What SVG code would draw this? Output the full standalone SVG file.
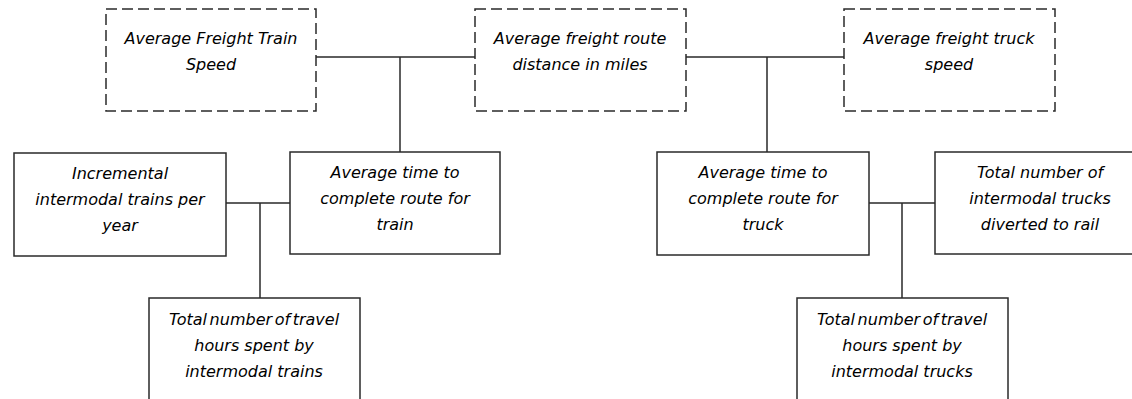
<svg xmlns="http://www.w3.org/2000/svg" width="1132" height="399" viewBox="0 0 1132 399">
  <style>
    .box { fill: #ffffff; stroke: #2a2a2a; stroke-width: 1.5; }
    .dashed { stroke-dasharray: 11 5; }
    .wire { fill: none; stroke: #2a2a2a; stroke-width: 1.5; }
    text { font-family: "DejaVu Sans", "Liberation Sans", sans-serif; font-style: italic; font-size: 16px; fill: #000000; text-anchor: middle; }
    .tight { word-spacing: -2.5px; }
  </style>
  <rect width="1132" height="399" fill="#ffffff"/>

  <!-- connectors -->
  <g id="connectors">
    <path class="wire" d="M316 57 H475 M400 57 V152"/>
    <path class="wire" d="M686 57 H844 M767 57 V152"/>
    <path class="wire" d="M226 203 H290 M260 203 V298"/>
    <path class="wire" d="M869 203 H935 M902 203 V298"/>
  </g>

  <!-- input variables (dashed) -->
  <g id="train-speed">
    <rect class="box dashed" x="106" y="9" width="210" height="102"/>
    <text x="211" y="44">Average Freight Train</text>
    <text x="211" y="70">Speed</text>
  </g>
  <g id="route-distance">
    <rect class="box dashed" x="475" y="9" width="211" height="102"/>
    <text x="580" y="44">Average freight route</text>
    <text x="580" y="70">distance in miles</text>
  </g>
  <g id="truck-speed">
    <rect class="box dashed" x="844" y="9" width="211" height="102"/>
    <text x="949" y="44">Average freight truck</text>
    <text x="949" y="70">speed</text>
  </g>

  <!-- train branch -->
  <g id="incremental-trains">
    <rect class="box" x="14" y="153" width="212" height="103"/>
    <text x="120" y="179">Incremental</text>
    <text x="120" y="205">intermodal trains per</text>
    <text x="120" y="231">year</text>
  </g>
  <g id="train-route-time">
    <rect class="box" x="290" y="152" width="210" height="102"/>
    <text x="395" y="178">Average time to</text>
    <text x="395" y="204">complete route for</text>
    <text x="395" y="230">train</text>
  </g>
  <g id="train-hours">
    <rect class="box" x="149" y="298" width="211" height="110"/>
    <text class="tight" x="254" y="325">Total number of travel</text>
    <text x="254" y="351">hours spent by</text>
    <text x="254" y="377">intermodal trains</text>
  </g>

  <!-- truck branch -->
  <g id="truck-route-time">
    <rect class="box" x="657" y="152" width="212" height="103"/>
    <text x="763" y="178">Average time to</text>
    <text x="763" y="204">complete route for</text>
    <text x="763" y="230">truck</text>
  </g>
  <g id="trucks-diverted">
    <rect class="box" x="935" y="152" width="210" height="102"/>
    <text x="1040" y="178">Total number of</text>
    <text x="1040" y="204">intermodal trucks</text>
    <text x="1040" y="230">diverted to rail</text>
  </g>
  <g id="truck-hours">
    <rect class="box" x="797" y="298" width="211" height="110"/>
    <text class="tight" x="902" y="325">Total number of travel</text>
    <text x="902" y="351">hours spent by</text>
    <text x="902" y="377">intermodal trucks</text>
  </g>
</svg>
